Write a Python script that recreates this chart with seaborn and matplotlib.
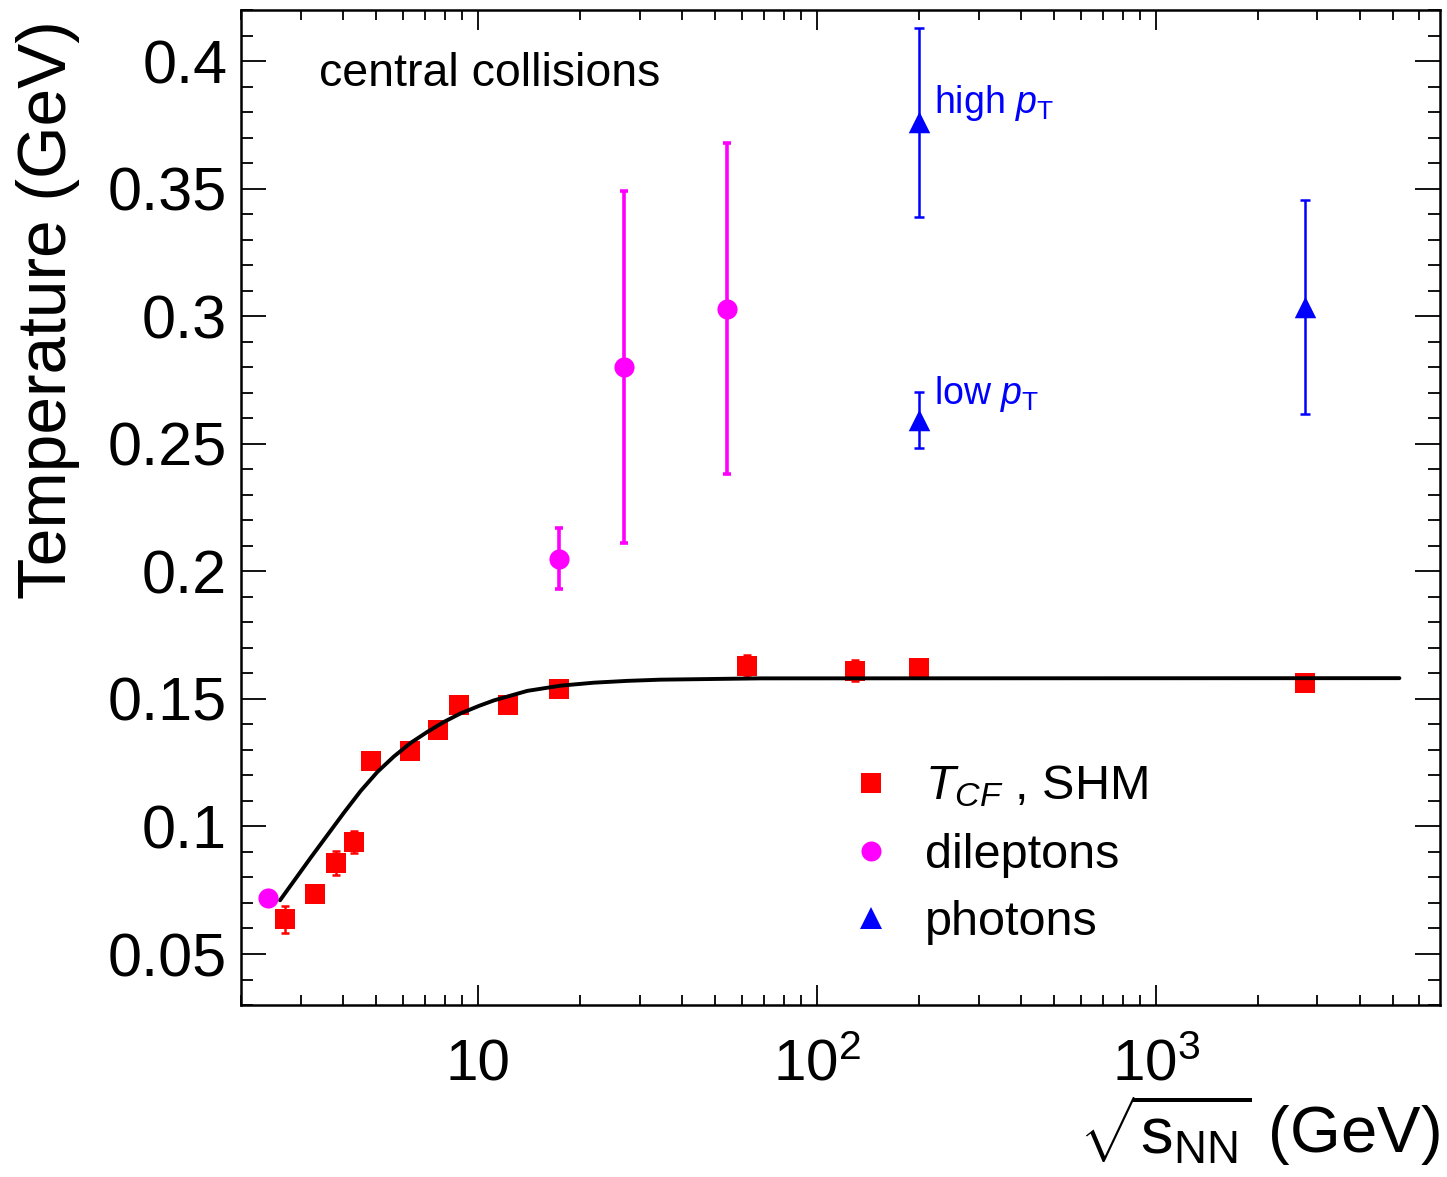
import numpy as np
import pandas as pd
import matplotlib
matplotlib.use("Agg")
import matplotlib.pyplot as plt
import seaborn as sns
from matplotlib.lines import Line2D
from matplotlib.ticker import FixedLocator, FixedFormatter, LogLocator, NullFormatter, MultipleLocator, FuncFormatter

# ---------------- data ----------------
shm_x = [2.7, 3.3, 3.8, 4.3, 4.85, 6.3, 7.6, 8.8, 12.3, 17.3, 62.4, 130, 200, 2760]
shm_y = [0.0636, 0.0734, 0.0856, 0.0939, 0.1256, 0.1295, 0.1377, 0.1475, 0.1475, 0.1538, 0.1629, 0.1611, 0.1620, 0.1561]
shm_err = [0.0052, 0.003, 0.0046, 0.0043, 0.003, 0.003, 0.003, 0.003, 0.003, 0.003, 0.0043, 0.004, 0.003, 0.003]

dil_x = [2.4, 17.3, 27.0, 54.4]
dil_y = [0.072, 0.205, 0.280, 0.303]
dil_err = [0.0, 0.012, 0.069, 0.065]

pho_x = [200, 200, 2760]
pho_y = [0.376, 0.2594, 0.3035]
pho_err = [0.037, 0.011, 0.042]

curve_x = [2.606, 3.210, 4.024, 4.508, 5.050, 5.653, 6.332, 7.090, 7.938, 8.892, 10.07,
           11.15, 13.99, 17.54, 21.99, 27.59, 34.58, 68.24, 5235]
curve_y = [0.07106, 0.08776, 0.10541, 0.11392, 0.12137, 0.12745, 0.13275, 0.13706, 0.14098,
           0.14431, 0.14725, 0.14941, 0.15314, 0.15518, 0.15635, 0.15706, 0.15753, 0.15804, 0.15812]

x_ticks = [10, 100, 1000]
x_tick_labels = ["10", r"$10^{2}$", r"$10^{3}$"]

RED = "#ff0000"
MAG = "#ff00ff"
BLUE = "#0000ff"

# ---------------- style ----------------
sns.set_theme(style="ticks")
plt.rcParams["font.family"] = ["Liberation Sans", "DejaVu Sans"]
plt.rcParams["mathtext.fontset"] = "custom"
plt.rcParams["mathtext.rm"] = "Liberation Sans"
plt.rcParams["mathtext.it"] = "Liberation Sans:italic"
plt.rcParams["mathtext.sf"] = "Liberation Sans"
plt.rcParams["mathtext.bf"] = "Liberation Sans:bold"
for k in ["text.color", "axes.labelcolor", "xtick.color", "ytick.color", "axes.edgecolor"]:
    plt.rcParams[k] = "black"

fig = plt.figure(figsize=(14.47, 11.77), dpi=100)
ax = fig.add_axes([0.1666, 0.1461, 0.8286, 0.8454])

shm_df = pd.DataFrame({"x": shm_x, "y": shm_y})
dil_df = pd.DataFrame({"x": dil_x, "y": dil_y})
pho_df = pd.DataFrame({"x": pho_x, "y": pho_y})
curve_df = pd.DataFrame({"x": curve_x, "y": curve_y})

# SHM points
ax.errorbar(shm_x, shm_y, yerr=shm_err, fmt="none", ecolor=RED, elinewidth=1.8,
            capsize=3.2, capthick=1.8, zorder=2)
sns.scatterplot(data=shm_df, x="x", y="y", marker="s", s=190, color=RED,
                linewidth=0, ax=ax, zorder=3, legend=False)

# curve
sns.lineplot(data=curve_df, x="x", y="y", color="black", linewidth=2.8, ax=ax,
             zorder=4, legend=False, sort=False)

# dileptons
ax.errorbar(dil_x, dil_y, yerr=dil_err, fmt="none", ecolor=MAG, elinewidth=2.6,
            capsize=3.2, capthick=2.6, zorder=5)
sns.scatterplot(data=dil_df, x="x", y="y", marker="o", s=210, color=MAG,
                linewidth=0, ax=ax, zorder=6, legend=False)

# photons
ax.errorbar(pho_x, pho_y, yerr=pho_err, fmt="none", ecolor=BLUE, elinewidth=1.8,
            capsize=3.4, capthick=1.8, zorder=5)
sns.scatterplot(data=pho_df, x="x", y="y", marker="^", s=240, color=BLUE,
                linewidth=0, ax=ax, zorder=6, legend=False)

# ---------------- axes ----------------
ax.set_xscale("log")
ax.set_xlim(2.0, 6900)
ax.set_ylim(0.03, 0.42)

ax.xaxis.set_major_locator(FixedLocator(x_ticks))
ax.xaxis.set_major_formatter(FixedFormatter(x_tick_labels))
ax.xaxis.set_minor_locator(LogLocator(base=10, subs=np.arange(2, 10)))
ax.xaxis.set_minor_formatter(NullFormatter())
ax.yaxis.set_major_locator(MultipleLocator(0.05))
ax.yaxis.set_minor_locator(MultipleLocator(0.01))
ax.yaxis.set_major_formatter(FuncFormatter(lambda v, p: f"{v:g}"))

ax.tick_params(which="both", direction="in", top=True, right=True, color="black",
               labelcolor="black", width=1.3)
ax.tick_params(axis="y", which="major", length=18, labelsize=44, pad=10)
ax.tick_params(axis="y", which="minor", length=8.6)
ax.tick_params(axis="x", which="major", length=14.4, labelsize=42, pad=54)
ax.tick_params(axis="x", which="minor", length=7.2)
for lbl in ax.get_xticklabels():
    lbl.set_verticalalignment("baseline")

for sp in ax.spines.values():
    sp.set_linewidth(1.8)
    sp.set_color("black")

ax.set_xlabel(r"$\sqrt{\mathrm{s}_{\mathrm{NN}}}$ (GeV)", fontsize=47, loc="right", color="black")
ax.xaxis.set_label_coords(1.0, -0.088)
ax.set_ylabel("Temperature (GeV)", fontsize=48.7, loc="top", color="black")
ax.yaxis.set_label_coords(-0.1340, 0.99)

# annotations
ax.text(0.065, 0.9236, "central collisions", transform=ax.transAxes, fontsize=33.5,
        ha="left", va="baseline", color="black")
ax.text(221, 0.3798, r"high $p_{\mathrm{T}}$", fontsize=27, color=BLUE, ha="left", va="baseline")
ax.text(221, 0.2657, r"low $p_{\mathrm{T}}$", fontsize=27, color=BLUE, ha="left", va="baseline")

# legend
handles = [
    Line2D([], [], linestyle="none", marker="s", markersize=13.7, color=RED, markeredgewidth=0),
    Line2D([], [], linestyle="none", marker="o", markersize=14.4, color=MAG, markeredgewidth=0),
    Line2D([], [], linestyle="none", marker="^", markersize=15.5, color=BLUE, markeredgewidth=0),
]
labels = [r"$T_{CF}$ , SHM", "dileptons", "photons"]
leg = ax.legend(handles, labels, loc="upper left", bbox_to_anchor=(0.585, 0.351),
                bbox_transform=fig.transFigure, frameon=False, fontsize=35,
                handlelength=1.0, handletextpad=0.62, labelspacing=0.47,
                borderpad=0, borderaxespad=0)
for t in leg.get_texts():
    t.set_color("black")

fig.savefig("out.png", dpi=100)
